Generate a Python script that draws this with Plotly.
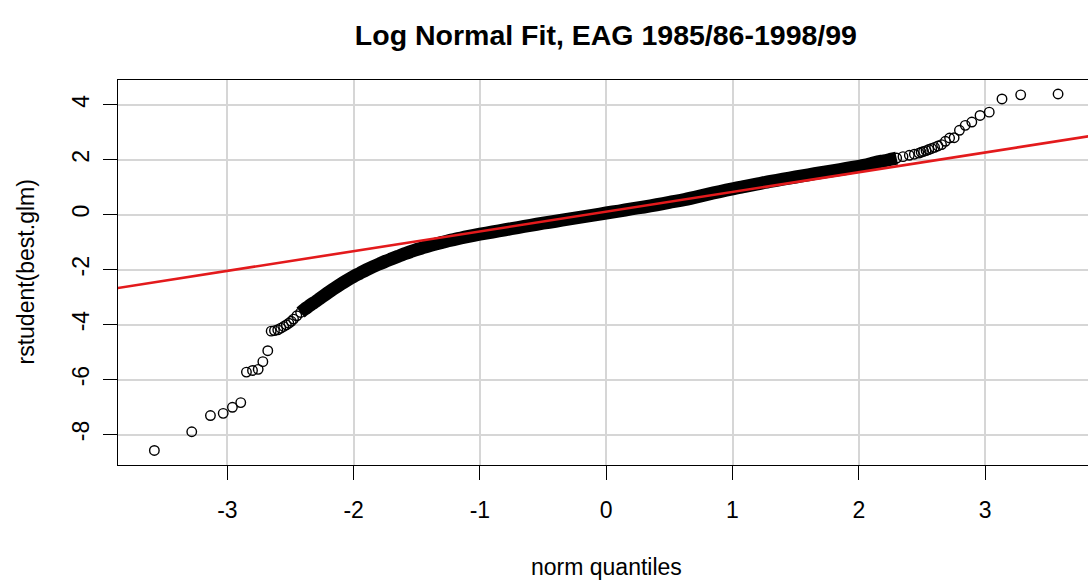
import plotly.graph_objects as go

title_text = "Log Normal Fit, EAG 1985/86-1998/99"
x_label = "norm quantiles"
y_label = "rstudent(best.glm)"

x_ticks = [-3, -2, -1, 0, 1, 2, 3]
y_ticks = [-8, -6, -4, -2, 0, 2, 4]

# theoretical normal quantiles (x) and studentized residuals (y)
theo_q = [
    -3.578, -3.282, -3.134, -3.033, -2.960, -2.894, -2.849, -2.801, -2.756, -2.719,
    -2.680, -2.653, -2.627, -2.601, -2.577, -2.554, -2.533, -2.513, -2.494, -2.476,
    -2.45, -2.42, -2.39, -2.36, -2.33, -2.30, -2.27, -2.24, -2.20, -2.15,
    -2.10, -2.05, -2.00, -1.95, -1.90, -1.85, -1.80, -1.75, -1.70, -1.65,
    -1.60, -1.55, -1.50, -1.45, -1.40, -1.35, -1.30, -1.25, -1.20, -1.15,
    -1.10, -1.00, -0.90, -0.80, -0.70, -0.60, -0.50, -0.40, -0.30, -0.20,
    -0.10, 0.00, 0.10, 0.20, 0.30, 0.40, 0.50, 0.60, 0.70, 0.80,
    0.90, 1.00, 1.10, 1.20, 1.30, 1.40, 1.50, 1.60, 1.70, 1.80,
    1.90, 2.00, 2.05, 2.10, 2.15, 2.20, 2.25, 2.30, 2.35, 2.40,
    2.44, 2.476, 2.494, 2.513, 2.533, 2.554, 2.577, 2.600, 2.627, 2.655,
    2.686, 2.719, 2.755, 2.797, 2.843, 2.895, 2.960, 3.033, 3.134, 3.282,
    3.578,
]
rstud = [
    -8.58, -7.90, -7.31, -7.23, -7.01, -6.84, -5.73, -5.67, -5.63, -5.35,
    -4.95, -4.24, -4.22, -4.19, -4.13, -4.07, -4.01, -3.95, -3.88, -3.80,
    -3.68, -3.56, -3.45, -3.35, -3.25, -3.16, -3.06, -2.96, -2.83, -2.67,
    -2.52, -2.38, -2.25, -2.13, -2.01, -1.90, -1.80, -1.70, -1.61, -1.52,
    -1.43, -1.35, -1.27, -1.20, -1.13, -1.07, -1.01, -0.95, -0.90, -0.85,
    -0.80, -0.71, -0.63, -0.55, -0.47, -0.39, -0.31, -0.24, -0.16, -0.09,
    -0.02, 0.06, 0.13, 0.21, 0.28, 0.36, 0.45, 0.53, 0.63, 0.74,
    0.84, 0.94, 1.03, 1.12, 1.21, 1.29, 1.37, 1.45, 1.53, 1.60,
    1.68, 1.76, 1.80, 1.86, 1.92, 1.96, 2.01, 2.06, 2.11, 2.16,
    2.20, 2.24, 2.27, 2.30, 2.33, 2.37, 2.41, 2.45, 2.50, 2.55,
    2.67, 2.79, 2.80, 3.07, 3.25, 3.37, 3.61, 3.73, 4.21, 4.36,
    4.39,
]

# qqline
line_intercept = 0.107
line_slope = 0.718
line_x = [-4.5, 4.5]

# densely packed region where the circles merge into a solid band
dense_lo, dense_hi = -2.42, 2.30

FONT = "Liberation Sans, Arial, sans-serif"

fig = go.Figure()

dense = [(x, y) for x, y in zip(theo_q, rstud) if dense_lo <= x <= dense_hi]
fig.add_trace(go.Scatter(
    x=[p[0] for p in dense], y=[p[1] for p in dense], mode="lines",
    line=dict(color="black", width=13, shape="spline", smoothing=0.8),
    hoverinfo="skip", showlegend=False,
))
fig.add_trace(go.Scatter(
    x=theo_q, y=rstud, mode="markers",
    marker=dict(symbol="circle-open", size=9.5, color="black", line=dict(width=1.4, color="black")),
    showlegend=False,
))
fig.add_trace(go.Scatter(
    x=line_x, y=[line_intercept + line_slope * v for v in line_x], mode="lines",
    line=dict(color="#e31a1c", width=2.6), showlegend=False,
))

axis_common = dict(
    showgrid=True, gridcolor="#d6d6d6", gridwidth=1.6, zeroline=False,
    ticks="outside", ticklen=14, tickwidth=1.3, tickcolor="black",
    tickfont=dict(family=FONT, size=23, color="black"),
    showline=True, linecolor="black", linewidth=1.3,
)

fig.update_layout(
    width=1088, height=582,
    paper_bgcolor="white", plot_bgcolor="white",
    margin=dict(l=118, r=0, t=80, b=117),
    title=dict(text="<b>" + title_text + "</b>", x=0.503, xref="paper", xanchor="center",
               y=1 - 35 / 582, yref="container", yanchor="middle",
               font=dict(family=FONT, size=28.5, color="black")),
    xaxis=dict(range=[-3.866, 3.815], tickvals=x_ticks, ticktext=[str(v) for v in x_ticks],
               mirror=True, ticklabelstandoff=10, **axis_common),
    yaxis=dict(range=[-9.11, 4.90], tickvals=y_ticks, ticktext=[str(v) for v in y_ticks],
               tickangle=-90, ticklabelstandoff=5, **axis_common),
    annotations=[
        dict(text=x_label, xref="paper", yref="paper", x=(606 - 118) / 970, y=(465 - 567) / 385,
             xanchor="center", yanchor="middle", showarrow=False,
             font=dict(family=FONT, size=23, color="black")),
        dict(text=y_label, xref="paper", yref="paper", x=(25 - 118) / 970, y=0.5,
             xanchor="center", yanchor="middle", showarrow=False, textangle=-90,
             font=dict(family=FONT, size=23, color="black")),
    ],
)

fig.write_html("out.html", config={"displayModeBar": False},
               post_script="document.body.style.margin='0';document.body.style.overflow='hidden';")
